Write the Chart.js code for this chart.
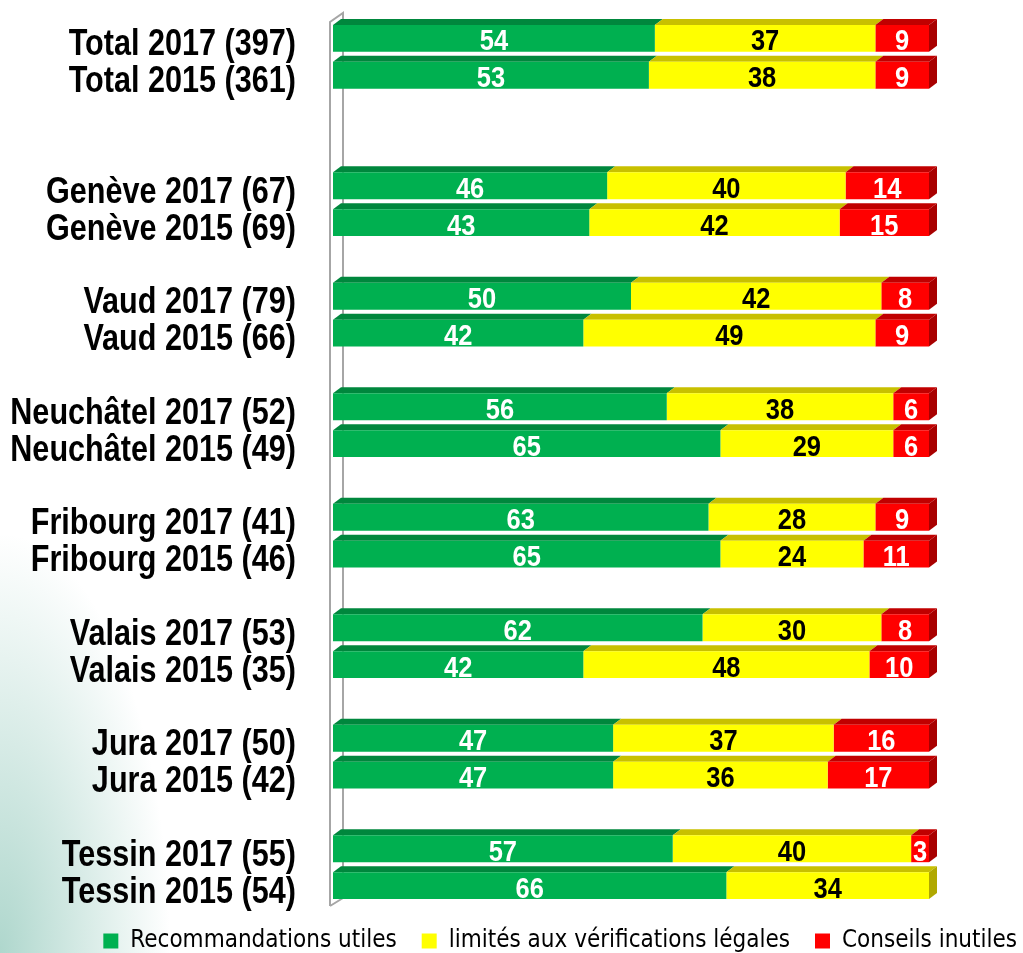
<!DOCTYPE html>
<html>
<head>
<meta charset="utf-8">
<script src="https://cdn.jsdelivr.net/npm/chart.js@4.4.1/dist/chart.umd.min.js"></script>
<style>
  html, body { margin: 0; padding: 0; width: 1023px; height: 953px; overflow: hidden; }
  body {
    background: radial-gradient(170px 420px at 0 100%, rgba(95, 175, 155, 0.5), rgba(255, 255, 255, 0) 100%), #fff;
  }
  #wrap { position: relative; width: 1023px; height: 963px; }
</style>
</head>
<body>
<div id="wrap"><canvas id="chart" width="1023" height="963"></canvas></div>
<script>
"use strict";

// rows, top to bottom ("" = empty slot between groups)
const categories = [
    "Total 2017 (397)", "Total 2015 (361)", "", "",
    "Genève 2017 (67)", "Genève 2015 (69)", "",
    "Vaud 2017 (79)", "Vaud 2015 (66)", "",
    "Neuchâtel 2017 (52)", "Neuchâtel 2015 (49)", "",
    "Fribourg 2017 (41)", "Fribourg 2015 (46)", "",
    "Valais 2017 (53)", "Valais 2015 (35)", "",
    "Jura 2017 (50)", "Jura 2015 (42)", "",
    "Tessin 2017 (55)", "Tessin 2015 (54)"
];
const recommandations = [54, 53, null, null, 46, 43, null, 50, 42, null, 56, 65, null, 63, 65, null, 62, 42, null, 47, 47, null, 57, 66];
const limites =         [37, 38, null, null, 40, 42, null, 42, 49, null, 38, 29, null, 28, 24, null, 30, 48, null, 37, 36, null, 40, 34];
const inutiles =        [9,  9,  null, null, 14, 15, null, 8,  9,  null, 6,  6,  null, 9,  11, null, 8,  10, null, 16, 17, null, 3,  0];

const seriesNames = ["Recommandations utiles", "limités aux vérifications légales", "Conseils inutiles"];

const SANS = "'Liberation Sans', Arial, sans-serif";
const frontColors = ["#00b050", "#ffff00", "#ff0000"];
const topColors = ["#00873d", "#c8c000", "#c00000"];
const sideColors = ["#006f32", "#b0a800", "#a80000"];
const labelColors = ["#fff", "#000", "#fff"];
const DX = 8, DY = 6;
const NARROW_X = 0.85;   // Arial Narrow look: squeeze Liberation Sans horizontally

function narrowText(ctx, text, x, y, align) {
    ctx.save();
    ctx.translate(x, y);
    ctx.scale(NARROW_X, 1);
    ctx.textAlign = align;
    ctx.fillText(text, 0, 0);
    ctx.restore();
}

// wall, 3D faces of the bars, value labels and row labels
const bar3d = {
    id: "bar3d",
    beforeDatasetsDraw(chart) {
        const ctx = chart.ctx;
        const area = chart.chartArea;
        const x0 = chart.scales.x.getPixelForValue(0);

        ctx.save();
        ctx.strokeStyle = "#a6a6a6";
        ctx.lineWidth = 2;
        ctx.beginPath();
        ctx.moveTo(x0 - 3, area.bottom + 2);
        ctx.lineTo(x0 - 3, area.top + 2);
        ctx.lineTo(x0 + 10, area.top - 7);
        ctx.lineTo(x0 + 10, area.bottom - 6);
        ctx.lineTo(x0 - 3, area.bottom + 2);
        ctx.stroke();

        const n = chart.data.labels.length;
        for (let i = 0; i < n; i++) {
            let last = -1;
            chart.data.datasets.forEach((ds, d) => { if (ds.data[i]) last = d; });
            chart.data.datasets.forEach((ds, d) => {
                if (!ds.data[i]) return;
                const bar = chart.getDatasetMeta(d).data[i];
                const p = bar.getProps(["x", "y", "base", "height"], true);
                const top = p.y - p.height / 2;
                ctx.fillStyle = topColors[d];
                ctx.beginPath();
                ctx.moveTo(p.base, top);
                ctx.lineTo(p.base + DX, top - DY);
                ctx.lineTo(p.x + DX, top - DY);
                ctx.lineTo(p.x, top);
                ctx.closePath();
                ctx.fill();
                if (d === last) {
                    ctx.fillStyle = sideColors[d];
                    ctx.beginPath();
                    ctx.moveTo(p.x, top);
                    ctx.lineTo(p.x + DX, top - DY);
                    ctx.lineTo(p.x + DX, top - DY + p.height);
                    ctx.lineTo(p.x, top + p.height);
                    ctx.closePath();
                    ctx.fill();
                }
            });
        }
        ctx.restore();
    },
    afterDatasetsDraw(chart) {
        const ctx = chart.ctx;
        const yScale = chart.scales.y;
        ctx.save();
        ctx.textBaseline = "alphabetic";

        // values inside the bars
        ctx.font = "bold 30px " + SANS;
        chart.data.datasets.forEach((ds, d) => {
            chart.getDatasetMeta(d).data.forEach((bar, i) => {
                const v = ds.data[i];
                if (!v) return;
                const p = bar.getProps(["x", "y", "base"], true);
                ctx.fillStyle = labelColors[d];
                narrowText(ctx, String(v), (p.x + p.base) / 2, p.y + 12, "center");
            });
        });

        // row labels left of the wall
        ctx.font = "bold 36px " + SANS;
        ctx.fillStyle = "#000";
        const right = chart.chartArea.left - 37;
        chart.data.labels.forEach((lab, i) => {
            if (!lab) return;
            narrowText(ctx, lab, right, yScale.getPixelForValue(i) + 17, "right");
        });
        ctx.restore();
    }
};

const chart = new Chart(document.getElementById("chart"), {
    type: "bar",
    data: {
        labels: categories,
        datasets: [recommandations, limites, inutiles].map((vals, d) => ({
            label: seriesNames[d],
            data: vals,
            backgroundColor: frontColors[d],
            borderWidth: 0,
            barPercentage: 0.73,
            categoryPercentage: 1
        }))
    },
    options: {
        indexAxis: "y",
        responsive: false,
        animation: false,
        layout: { padding: { top: 20, left: 0, right: -19, bottom: 0 } },
        plugins: {
            tooltip: { enabled: false },
            legend: {
                position: "bottom",
                align: "end",
                labels: {
                    boxWidth: 15,
                    boxHeight: 15,
                    padding: 25,
                    color: "#000",
                    font: { family: "'DejaVu Sans Condensed', sans-serif", size: 24 }
                }
            }
        },
        scales: {
            x: { stacked: true, min: 0, max: 100, display: false },
            y: {
                stacked: true,
                grid: { display: false, drawTicks: false },
                border: { display: false },
                ticks: { display: false },
                afterFit(scale) { scale.width = 333; }
            },
            yRight: {
                type: "linear",
                position: "right",
                grid: { display: false },
                border: { display: false },
                ticks: { display: false },
                afterFit(scale) { scale.width = 113; }
            }
        }
    },
    plugins: [bar3d]
});
</script>
</body>
</html>
